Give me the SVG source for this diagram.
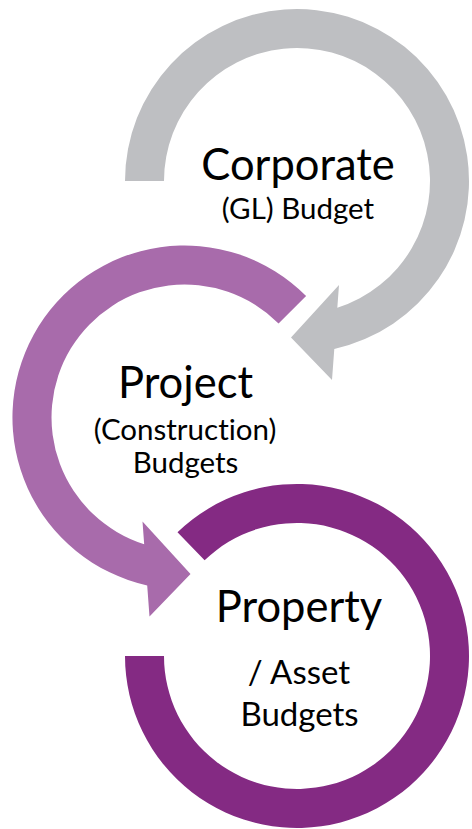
<svg xmlns="http://www.w3.org/2000/svg" width="472" height="829" viewBox="0 0 472 829">
<style>
.t{font-family:Lato,"Open Sans","Liberation Sans",sans-serif;fill:#000;text-anchor:middle;font-variant-ligatures:none;font-feature-settings:"liga" 0,"dlig" 0}
.big{font-size:43.5px}
.sub{font-size:29.5px}
.sub2{font-size:33px}
.gray{fill:#BEBFC2}
.lp{fill:#A86BAB}
.dp{fill:#842A83}
</style>
<g id="connectors">
<path class="gray" d="M125 181 A172 172 0 1 1 334.29 348.91 L332 380 L291 337.5 L339 285 L337.32 307.74 A133 133 0 1 0 164 181 Z"/>
<path class="lp" d="M306.1 295.9 A172 172 0 1 0 147.21 585.41 L149.5 616.5 L190.5 574 L142.5 521.5 L144.18 544.24 A133 133 0 1 1 278.55 323.45 Z"/>
<path class="dp" d="M177.5 532.3 A172 172 0 1 1 125 656 L164 656 A133 133 0 1 0 204.6 560.3 Z"/>
</g>
<g id="node-corporate">
<text class="t big" x="298" y="180">Corporate</text>
<text class="t sub" x="298" y="219">(GL) Budget</text>
</g>
<g id="node-project">
<text class="t big" x="185.5" y="398">Project</text>
<text class="t sub" x="185" y="440">(Construction)</text>
<text class="t sub" x="185.5" y="473">Budgets</text>
</g>
<g id="node-property">
<text class="t big" x="299" y="622">Property</text>
<text class="t sub2" x="299" y="684">/ Asset</text>
<text class="t sub2" x="299.5" y="726">Budgets</text>
</g>
</svg>
